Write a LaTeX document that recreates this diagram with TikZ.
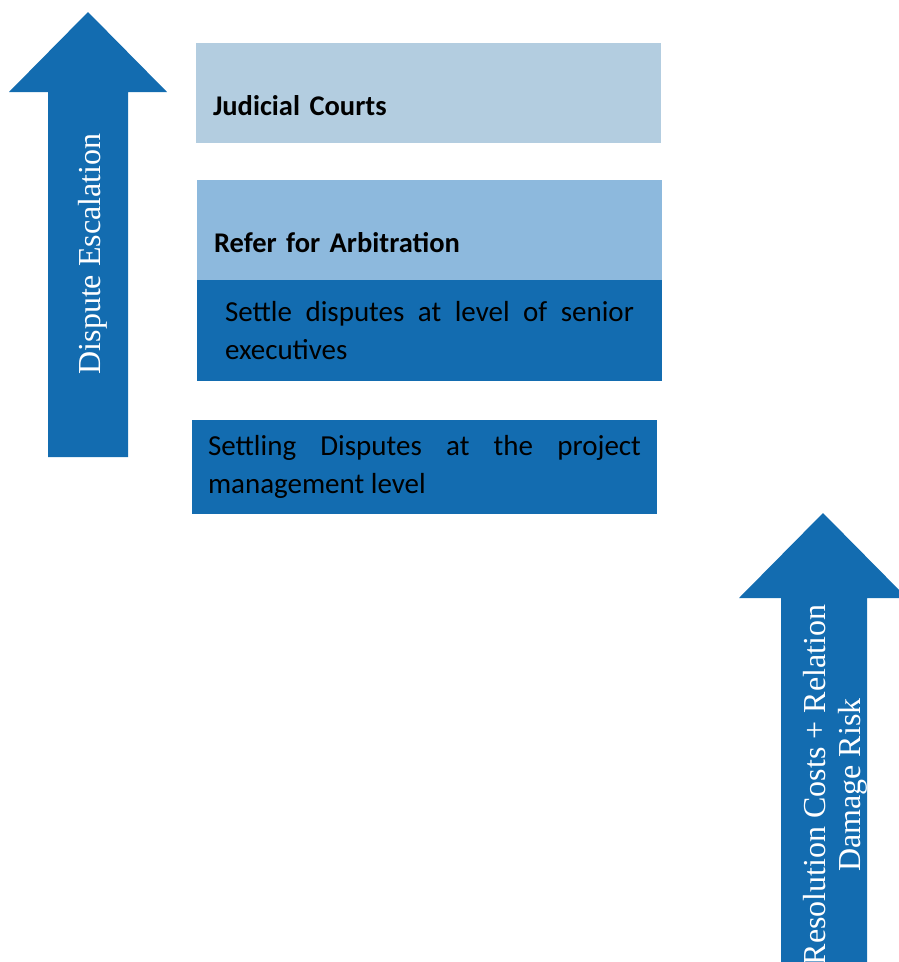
\documentclass[tikz,border=0pt]{standalone}
\usepackage{fontspec}
\setmainfont{Carlito}
\newfontfamily\arrowfont{Liberation Serif}
\usetikzlibrary{positioning}
\definecolor{courtblue}{RGB}{179,205,224}
\definecolor{arbblue}{RGB}{141,185,221}
\definecolor{levelblue}{RGB}{19,108,176}

\begin{document}
\begin{tikzpicture}[
		x=1pt, y=-1pt,
		every node/.style={inner sep=0pt, outer sep=0pt},
		levelbox/.style={fill=#1, anchor=north west, minimum width=465pt, font=\fontsize{29}{38}\selectfont},
		headbox/.style={levelbox=#1, inner xsep=17pt, text width=431pt, align=left, text height=72pt, text depth=28pt, font=\fontsize{28.5}{38}\selectfont\bfseries},
		textbox/.style={levelbox=#1, inner xsep=16pt, text width=433pt, align=justify},
		arrowtext/.style={text=white, rotate=90, align=center, font=\arrowfont\fontsize{32}{35}\selectfont}
		]
		\clip (0,0) rectangle (899,962);
		
		% escalation arrows
		\fill[levelblue] (48,457) -- (48,92) -- (9,92) -- (88,12) -- (167,92) -- (128,92) -- (128,457) -- cycle;
		\fill[levelblue] (781,970) -- (781,598) -- (739,598) -- (823,513) -- (907,598) -- (867,598) -- (867,970) -- cycle;
		\node (esc) [arrowtext] at (93,254) {Dispute Escalation};
		\node (cost) [arrowtext] at (835,785) {Resolution Costs + Relation\\Damage Risk};
		
		% levels
		\node (court) [headbox=courtblue] at (196,43) {Judicial Courts};
		\node (arb) [below=37pt of court.south west, headbox=arbblue, xshift=1pt] {Refer for Arbitration};
		\node (senior) [below=0pt of arb.south west, textbox=levelblue, inner xsep=28pt, text width=409pt, minimum height=101pt] {Settle disputes at level of senior\linebreak executives};
		\node (project) [below=39pt of senior.south west, textbox=levelblue, xshift=-5pt, minimum height=94pt] {Settling Disputes at the project\linebreak management level};
	\end{tikzpicture}
\end{document}
